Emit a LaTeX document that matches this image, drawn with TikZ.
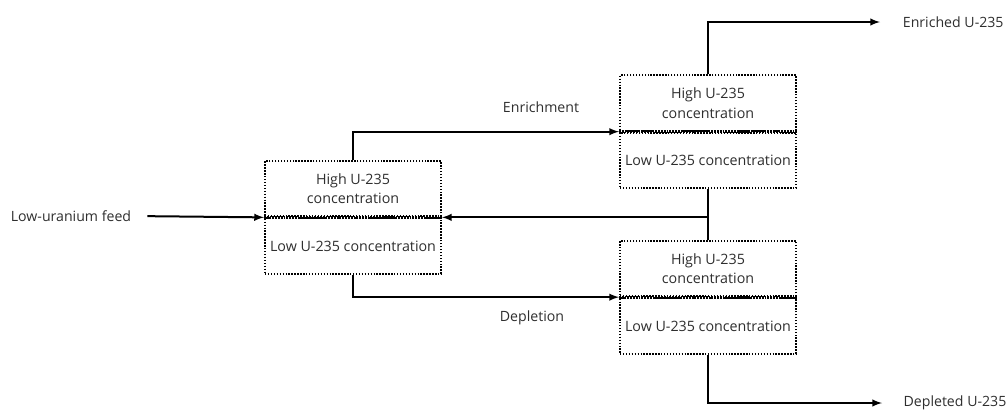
\documentclass[tikz,border=0pt]{standalone}
\usepackage{fontspec}
\setmainfont{Open Sans}
\usetikzlibrary{positioning}
\definecolor{txt}{HTML}{2E2E2E}

\tikzset{
  half/.style={draw,line width=1.5pt,dash pattern=on 1.05pt off 1.15pt,
    minimum width=132pt,minimum height=41.5pt,inner sep=0pt,
    align=center,text=txt,font=\fontsize{10.7}{14.5}\selectfont},
  divider/.style={line width=2.4pt,dash pattern=on 1.4pt off 0.7pt},
  flow/.style={->,>=latex,line width=1.5pt},
  lbl/.style={text=txt,inner sep=0pt,font=\fontsize{10.6}{12}\selectfont}
}

\begin{document}
\begin{tikzpicture}
[x=0.75pt,y=-0.75pt]
\useasboundingbox (0,0) rectangle (1007,411);

% feed stage
\node[half] (fhigh) at (353,188.7) {High U-235\\concentration};
\node[half,below=0pt of fhigh] (flow) {Low U-235 concentration};
\draw[divider] (fhigh.south west) -- (fhigh.south east);

% enrichment stage
\node[half] (ehigh) at (708,103) {High U-235\\concentration};
\node[half,below=0pt of ehigh] (elow) {Low U-235 concentration};
\draw[divider] (ehigh.south west) -- (ehigh.south east);

% depletion stage
\node[half] (dhigh) at (708,268.5) {High U-235\\concentration};
\node[half,below=0pt of dhigh] (dlow) {Low U-235 concentration};
\draw[divider] (dhigh.south west) -- (dhigh.south east);

\node[lbl] (feed) at (71,216) {Low-uranium feed};
\node[lbl] (enrich) at (541,107) {Enrichment};
\node[lbl] (deplete) at (532,318) {Depletion};

\coordinate (enrend) at (880,22);
\coordinate (depend) at (882,403);
\node[lbl,anchor=west,right=17pt of enrend] (enr) {Enriched U-235};
\node[lbl,anchor=west,right=16pt of depend] (dep) {Depleted U-235};

\draw[flow,shorten <=12pt] (feed.east) -- (flow.north west);
\draw[flow] (fhigh.north) |- (ehigh.south west);
\draw[flow] (flow.south) |- (dhigh.south west);
\draw[line width=1.5pt] (elow.south) -- (dhigh.north);
\draw[flow] (elow.south |- flow.north east) -- (flow.north east);
\draw[flow] (ehigh.north) |- (enrend);
\draw[flow] (dlow.south) |- (depend);
\end{tikzpicture}
\end{document}
